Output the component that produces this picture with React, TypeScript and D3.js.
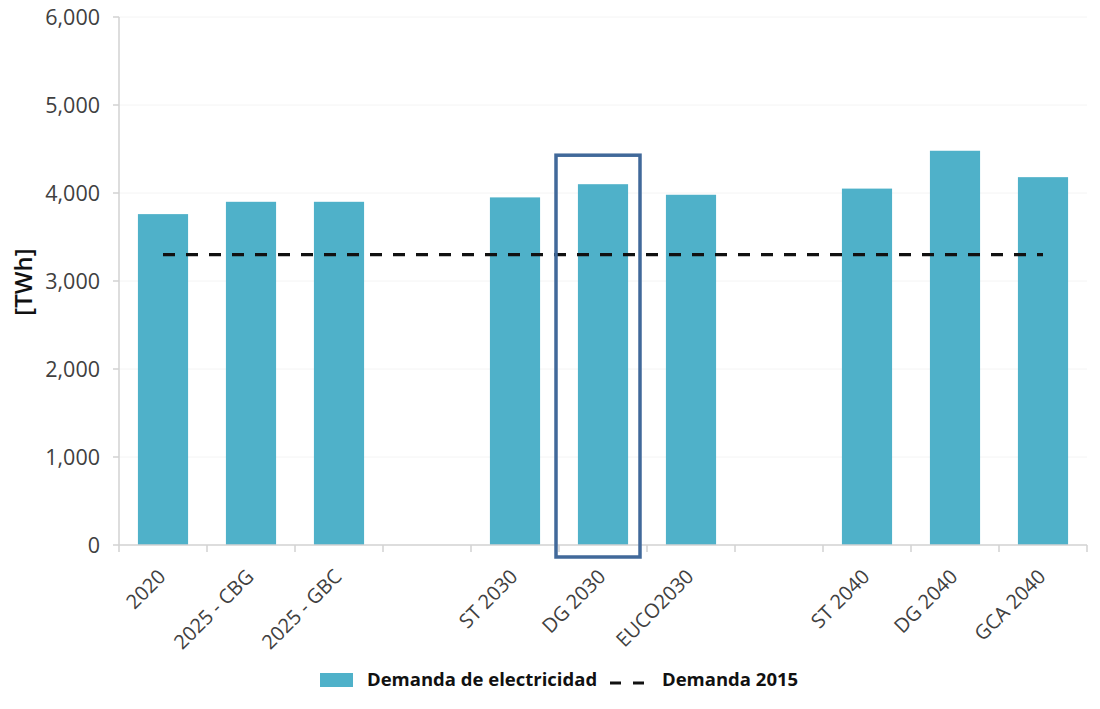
import * as d3 from 'd3';

const categories = ['2020', '2025 - CBG', '2025 - GBC', '', 'ST 2030', 'DG 2030', 'EUCO2030', '', 'ST 2040', 'DG 2040', 'GCA 2040'];
const demand: (number | null)[] = [3760, 3900, 3900, null, 3950, 4100, 3980, null, 4050, 4480, 4180];
const demand2015 = 3300;
const yTicks = [0, 1000, 2000, 3000, 4000, 5000, 6000];
const highlighted = 'DG 2030';
const legendLabels = ['Demanda de electricidad', 'Demanda 2015'];

const W = 1100;
const H = 709;
const BAR = '#4fb1c9';
const AXIS = '#d2d2d2';
const TEXT = '#404040';
const FONT = "'Open Sans', 'Noto Sans', sans-serif";

export default function App() {
  const margin = { left: 119, right: 13, top: 17, bottom: 164 };
  const y = d3.scaleLinear().domain([0, 6000]).range([H - margin.bottom, margin.top]);
  const x = d3.scaleBand<number>()
    .domain(d3.range(categories.length))
    .range([margin.left, W - margin.right])
    .paddingInner(0.43)
    .paddingOuter(0.215);
  const step = x.step();
  const bw = x.bandwidth();
  const base = y(0);
  const slotStart = (i: number) => (x(i) as number) - (step * 0.43) / 2;
  const center = (i: number) => (x(i) as number) + bw / 2;
  const hi = categories.indexOf(highlighted);
  const first = 0;
  const last = categories.length - 1;

  return (
    <div style={{ position: 'absolute', left: 0, top: 0 }}>
      <svg width={W} height={H} style={{ display: 'block', background: '#fff', fontFamily: FONT }}>
        {/* faint grid */}
        {yTicks.filter(t => t > 0).map(t => (
          <line key={'g' + t} x1={margin.left} x2={W - margin.right} y1={y(t)} y2={y(t)} stroke="#f4f4f4" />
        ))}

        {/* bars */}
        {demand.map((v, i) => v == null ? null : (
          <rect key={'b' + i} x={x(i)} y={y(v)} width={bw} height={base - y(v)} fill={BAR} />
        ))}

        {/* y axis */}
        <line x1={margin.left} x2={margin.left} y1={y(6000)} y2={base} stroke={AXIS} strokeWidth={1.5} />
        {yTicks.map(t => (
          <g key={'y' + t} transform={`translate(${margin.left},${y(t)})`}>
            <line x1={-6} x2={0} stroke={AXIS} strokeWidth={1.5} />
            <text x={-19} dy="0.36em" textAnchor="end" fontSize={21.5} fill={TEXT}>{d3.format(',')(t)}</text>
          </g>
        ))}

        {/* x axis */}
        <line x1={margin.left} x2={W - margin.right} y1={base} y2={base} stroke={AXIS} strokeWidth={1.5} />
        {d3.range(categories.length + 1).map(k => {
          const xx = k < categories.length ? slotStart(k) : W - margin.right;
          return <line key={'xt' + k} x1={xx} x2={xx} y1={base} y2={base + 7} stroke={AXIS} strokeWidth={1.5} />;
        })}
        {categories.map((c, i) => c === '' ? null : (
          <text key={'xl' + i} transform={`translate(${center(i) - 1},${base + 28}) rotate(-45)`}
            textAnchor="end" dy="0.35em" fontSize={20} fill={TEXT}>{c}</text>
        ))}

        {/* 2015 reference line */}
        <line x1={center(first)} x2={center(last)} y1={y(demand2015)} y2={y(demand2015)}
          stroke="#111" strokeWidth={3.2} strokeDasharray="12 11" />

        {/* highlight box */}
        <rect x={center(hi) - 47} y={y(demand[hi] as number) - 29} width={84}
          height={base + 12 - (y(demand[hi] as number) - 29)} fill="none" stroke="#41699a" strokeWidth={3.5} />

        {/* y title */}
        <text transform={`translate(24,${y(3000) + 1}) rotate(-90)`} textAnchor="middle" dy="0.35em"
          fontSize={24} fontWeight={600} fill="#111">[TWh]</text>

        {/* legend */}
        <g transform="translate(320,680)">
          <rect x={0} y={-7} width={33} height={14} fill={BAR} />
          <text x={47} dy="0.35em" fontSize={18.5} fontWeight={700} fill="#111">{legendLabels[0]}</text>
          <line x1={290} x2={324} y1={3} y2={3} stroke="#111" strokeWidth={3} strokeDasharray="11 12" />
          <text x={342} dy="0.35em" fontSize={18.5} fontWeight={700} fill="#111">{legendLabels[1]}</text>
        </g>
      </svg>
    </div>
  );
}
